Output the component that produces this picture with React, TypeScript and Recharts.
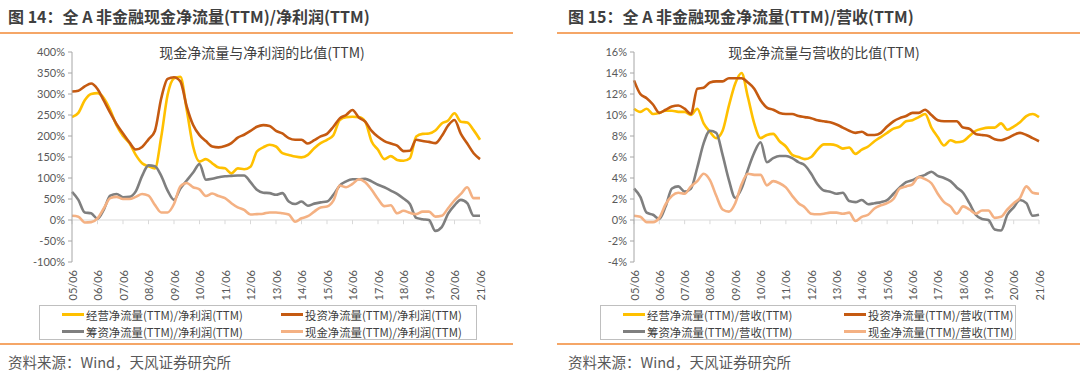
import { LineChart, Line, XAxis, YAxis, ReferenceLine } from 'recharts';

// quarterly periods, 05/06 .. 21/06
const years = ['05', '06', '07', '08', '09', '10', '11', '12', '13', '14', '15', '16', '17', '18', '19', '20', '21'];
const months = ['03', '06', '09', '12'];
const periods = years.flatMap((y) => months.map((m) => `${y}/${m}`)).slice(1, -2);
const yearTicks = years.map((y) => `${y}/06`);

// 图14: ratio to net profit (%)
const profitOperating = [245, 255, 285, 300, 302, 290, 262, 225, 200, 183, 155, 135, 128, 123, 198, 298, 337, 341, 262, 175, 139, 145, 135, 125, 123, 111, 123, 121, 127, 163, 173, 179, 175, 159, 155, 151, 149, 155, 171, 183, 191, 202, 238, 245, 246, 245, 234, 187, 167, 145, 152, 143, 141, 147, 199, 205, 206, 213, 230, 237, 254, 234, 232, 214, 191];
const profitInvesting = [306, 308, 318, 325, 312, 284, 255, 228, 206, 185, 168, 174, 192, 212, 290, 336, 340, 330, 270, 226, 202, 188, 175, 173, 176, 183, 196, 203, 212, 222, 226, 224, 212, 206, 195, 191, 191, 182, 190, 199, 205, 222, 242, 250, 262, 244, 234, 212, 198, 188, 182, 177, 164, 165, 191, 188, 186, 183, 200, 225, 238, 205, 182, 159, 145];
const profitFinancing = [67, 48, 18, 16, 3, 25, 58, 62, 54, 55, 68, 105, 130, 128, 105, 70, 48, 75, 94, 113, 133, 96, 98, 102, 104, 105, 106, 106, 90, 72, 65, 64, 60, 64, 44, 38, 44, 34, 39, 42, 44, 60, 82, 92, 97, 97, 98, 92, 84, 78, 70, 62, 51, 38, 5, 2, 0, -26, -17, 15, 35, 48, 40, 10, 10];
const profitCash = [10, 8, -6, -5, 4, 28, 52, 55, 50, 50, 55, 62, 58, 36, 18, 18, 38, 80, 88, 78, 73, 57, 63, 57, 52, 40, 30, 24, 13, 14, 15, 18, 18, 16, 13, -4, 4, 9, 20, 30, 32, 46, 82, 78, 86, 97, 90, 72, 50, 33, 35, 16, 22, 17, 14, 20, 20, 8, 10, 28, 47, 62, 78, 52, 52];

// 图15: ratio to revenue (%)
const revOperating = [10.6, 10.3, 10.6, 10.1, 10.2, 10.4, 10.4, 10.3, 10.3, 10.0, 10.6, 9.2, 8.4, 7.8, 8.5, 10.9, 13.0, 14.0, 11.7, 9.2, 7.8, 8.1, 8.2, 7.5, 7.0, 6.2, 6.0, 5.8, 6.0, 6.7, 7.2, 7.2, 7.1, 6.8, 6.9, 6.3, 6.7, 7.0, 7.5, 7.9, 8.3, 8.7, 8.9, 9.4, 9.5, 9.8, 10.1, 8.8, 7.9, 7.1, 7.6, 7.4, 7.5, 8.0, 8.5, 8.7, 8.8, 8.8, 9.2, 8.6, 8.9, 9.3, 9.9, 10.1, 9.8];
const revInvesting = [13.3, 12.0, 11.6, 11.0, 10.2, 10.5, 10.8, 10.9, 10.6, 10.1, 12.5, 12.6, 13.1, 13.2, 13.2, 13.5, 13.5, 13.5, 13.1, 12.5, 11.4, 10.7, 10.5, 10.2, 10.1, 10.1, 9.9, 9.8, 9.7, 9.5, 9.4, 9.3, 9.1, 8.8, 8.5, 8.3, 8.4, 8.1, 8.1, 8.3, 8.9, 9.4, 9.7, 9.9, 10.2, 10.2, 10.5, 10.0, 9.5, 9.4, 9.4, 9.4, 8.8, 8.7, 8.2, 8.1, 8.0, 7.7, 7.6, 7.8, 8.1, 8.3, 8.1, 7.8, 7.5];
const revFinancing = [3.0, 2.2, 0.7, 0.5, 0.1, 1.3, 3.0, 3.2, 2.7, 3.0, 5.0, 7.3, 8.5, 8.3, 6.2, 3.8, 2.1, 3.0, 4.8, 6.4, 7.4, 5.5, 5.9, 6.1, 6.1, 5.9, 5.5, 5.2, 4.4, 3.4, 2.8, 2.7, 2.5, 2.6, 1.8, 1.7, 1.9, 1.5, 1.6, 1.7, 1.9, 2.5, 3.1, 3.6, 3.8, 4.1, 4.3, 4.6, 4.2, 4.0, 3.7, 3.1, 2.6, 1.6, 0.5, 0.1, 0.0, -0.9, -1.0, 0.5, 1.2, 1.9, 1.6, 0.4, 0.5];
const revCash = [0.4, 0.3, -0.2, -0.2, 0.2, 1.5, 2.3, 2.6, 2.5, 3.2, 3.7, 4.4, 3.8, 2.3, 1.0, 0.8, 1.6, 3.4, 4.4, 4.3, 4.3, 3.3, 3.7, 3.5, 3.1, 2.3, 1.6, 1.2, 0.6, 0.55, 0.6, 0.7, 0.7, 0.6, 0.7, -0.1, 0.3, 0.5, 1.1, 1.4, 1.6, 2.0, 3.0, 3.2, 3.4, 4.1, 3.9, 3.5, 2.5, 1.7, 1.3, 0.6, 1.3, 1.0, 0.6, 0.9, 0.9, 0.2, 0.3, 1.0, 1.6, 2.1, 3.2, 2.6, 2.5];

const profitTicks = [-100, -50, 0, 50, 100, 150, 200, 250, 300, 350, 400];
const revTicks = [-4, -2, 0, 2, 4, 6, 8, 10, 12, 14, 16];

const seriesKeys = ['op', 'inv', 'fin', 'cash'];
const seriesColors = ['#ffc000', '#c55a11', '#7f7f7f', '#f4b183'];
const seriesPrefix = ['经营净流量(TTM)/', '投资净流量(TTM)/', '筹资净流量(TTM)/', '现金净流量(TTM)/'];

const CJK = "'Noto Sans CJK SC', sans-serif";
const RULE = '#f5a667';

function YearTick(props: any) {
  const { x, y, payload } = props;
  return (
    <text
      x={x}
      y={y}
      transform={`rotate(-90, ${x}, ${y})`}
      textAnchor="end"
      dominantBaseline="central"
      fontSize={11}
      fill="#595959"
      fontFamily="Lato, sans-serif"
    >
      {payload.value}
    </text>
  );
}

type PanelProps = {
  chartLeft: number;
  rightMargin: number;
  ruleLeft: number;
  ruleWidth: number;
  textLeft: number;
  legendLeft: number;
  legendWidth: number;
  legendCol2: number;
  subtitleCenter: number;
  title: string;
  subtitle: string;
  suffix: string;
  series: number[][];
  ticks: number[];
  tickDepth: number;
};

function Panel(p: PanelProps) {
  const data = periods.map((period, i) => ({
    period,
    op: p.series[0][i],
    inv: p.series[1][i],
    fin: p.series[2][i],
    cash: p.series[3][i],
  }));
  const legendRows = [[0, 1], [2, 3]];

  return (
    <>
      <div style={{ position: 'absolute', left: p.textLeft, top: 5, fontSize: 16, lineHeight: '22px', fontWeight: 700, color: '#3f3f3f', fontFamily: CJK, whiteSpace: 'nowrap' }}>
        {p.title}
      </div>
      <div style={{ position: 'absolute', left: p.ruleLeft, top: 32, width: p.ruleWidth, height: 2, background: RULE }} />

      <div style={{ position: 'absolute', left: p.chartLeft, top: 0 }}>
        <LineChart width={520} height={345} data={data} margin={{ top: 52, right: p.rightMargin, bottom: 43, left: 28 }}>
          <XAxis
            dataKey="period"
            ticks={yearTicks}
            interval={0}
            tick={<YearTick />}
            axisLine={false}
            tickLine={false}
            height={40}
          />
          <YAxis
            width={44}
            domain={[p.ticks[0], p.ticks[p.ticks.length - 1]]}
            ticks={p.ticks}
            tickFormatter={(v: number) => `${v}%`}
            tick={{ fontSize: 11, fill: '#595959', fontFamily: 'Lato, sans-serif' }}
            axisLine={{ stroke: '#a6a6a6' }}
            tickLine={{ stroke: '#a6a6a6' }}
            tickSize={4}
            tickMargin={3}
            interval={0}
          />
          <ReferenceLine y={0} stroke="#d9d9d9" strokeWidth={1} />
          {yearTicks.map((t) => (
            <ReferenceLine
              key={t}
              segment={[{ x: t, y: 0 }, { x: t, y: p.tickDepth }]}
              stroke="#d9d9d9"
              strokeWidth={1}
            />
          ))}
          {seriesKeys.map((k, i) => (
            <Line
              key={k}
              type="monotone"
              dataKey={k}
              stroke={seriesColors[i]}
              strokeWidth={2.6}
              dot={false}
              isAnimationActive={false}
            />
          ))}
        </LineChart>
      </div>

      <div style={{ position: 'absolute', left: p.subtitleCenter - 160, top: 42, width: 320, textAlign: 'center', fontSize: 14, lineHeight: '20px', color: '#404040', fontFamily: CJK }}>
        {p.subtitle}
      </div>

      <div style={{ position: 'absolute', left: p.legendLeft, top: 305, width: p.legendWidth, height: 35, border: '1px solid #bfbfbf', boxSizing: 'border-box' }}>
        {legendRows.map((row, r) =>
          row.map((idx, c) => (
            <div key={idx} style={{ position: 'absolute', left: c === 0 ? 22 : p.legendCol2, top: r === 0 ? 0 : 17, height: 17, display: 'flex', alignItems: 'center', whiteSpace: 'nowrap' }}>
              <span style={{ display: 'inline-block', width: 22, height: 2.5, background: seriesColors[idx], marginRight: 2 }} />
              <span style={{ fontSize: 11.4, color: '#404040', fontFamily: CJK }}>{seriesPrefix[idx] + p.suffix}</span>
            </div>
          ))
        )}
      </div>

      <div style={{ position: 'absolute', left: p.ruleLeft, top: 343, width: p.ruleWidth, height: 2, background: RULE }} />
      <div style={{ position: 'absolute', left: p.textLeft, top: 352, fontSize: 14.5, lineHeight: '20px', color: '#595959', fontFamily: CJK, whiteSpace: 'nowrap' }}>
        资料来源：Wind，天风证券研究所
      </div>
    </>
  );
}

export default function App() {
  return (
    <div style={{ position: 'absolute', left: 0, top: 0, width: 1080, height: 380, background: '#fff', overflow: 'hidden' }}>
      <Panel
        chartLeft={0}
        rightMargin={40}
        ruleLeft={0}
        ruleWidth={513}
        textLeft={8}
        legendLeft={39}
        legendWidth={438}
        legendCol2={241}
        subtitleCenter={262}
        title="图 14：全 A 非金融现金净流量(TTM)/净利润(TTM)"
        subtitle="现金净流量与净利润的比值(TTM)"
        suffix="净利润(TTM)"
        series={[profitOperating, profitInvesting, profitFinancing, profitCash]}
        ticks={profitTicks}
        tickDepth={-10}
      />
      <Panel
        chartLeft={562}
        rightMargin={43}
        ruleLeft={557}
        ruleWidth={523}
        textLeft={568}
        legendLeft={600}
        legendWidth={416}
        legendCol2={243}
        subtitleCenter={824}
        title="图 15：全 A 非金融现金净流量(TTM)/营收(TTM)"
        subtitle="现金净流量与营收的比值(TTM)"
        suffix="营收(TTM)"
        series={[revOperating, revInvesting, revFinancing, revCash]}
        ticks={revTicks}
        tickDepth={-0.4}
      />
    </div>
  );
}
